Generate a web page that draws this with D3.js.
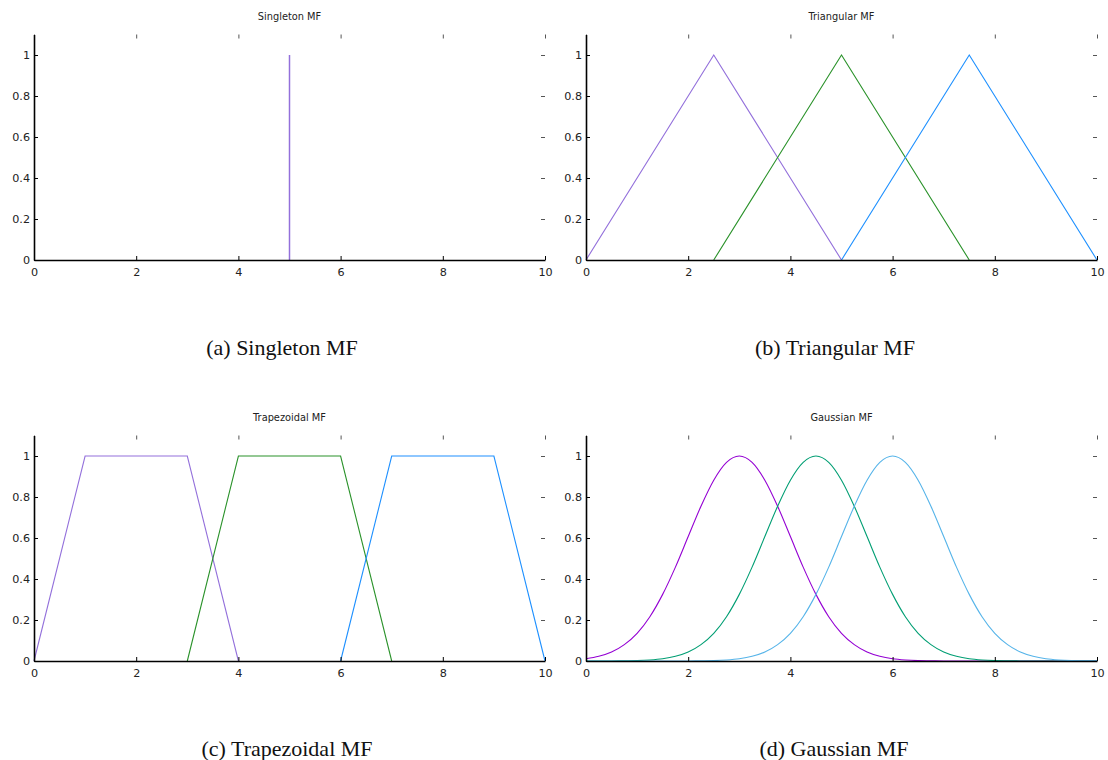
<!DOCTYPE html>
<html>
<head>
<meta charset="utf-8">
<script src="https://cdn.jsdelivr.net/npm/d3@7"></script>
<style>
  body { margin: 0; background: #fff; }
  .tick text { font-family: "DejaVu Sans", sans-serif; font-size: 11.2px; fill: #222; }
  .ptitle { font-family: "DejaVu Sans", sans-serif; font-size: 9.8px; fill: #222; }
  .caption { font-family: "Liberation Serif", "Times New Roman", serif; font-size: 22px; fill: #111; }
</style>
</head>
<body>
<div id="chart"></div>
<script>
// tick values
var xTicks = [0, 2, 4, 6, 8, 10];
var yTicks = [0, 0.2, 0.4, 0.6, 0.8, 1];

// singleton MF
var singletonX = [5, 5];
var singletonY = [0, 1];

// triangular MF
var triAX = [0, 2.5, 5],   triAY = [0, 1, 0];
var triBX = [2.5, 5, 7.5], triBY = [0, 1, 0];
var triCX = [5, 7.5, 10],  triCY = [0, 1, 0];

// trapezoidal MF
var trapAX = [0, 1, 3, 4],  trapAY = [0, 1, 1, 0];
var trapBX = [3, 4, 6, 7],  trapBY = [0, 1, 1, 0];
var trapCX = [6, 7, 9, 10], trapCY = [0, 1, 1, 0];

// gaussian MF, read every 0.25
var gaussX = [0, 0.25, 0.5, 0.75, 1, 1.25, 1.5, 1.75, 2, 2.25, 2.5, 2.75, 3, 3.25, 3.5, 3.75, 4, 4.25, 4.5, 4.75,
    5, 5.25, 5.5, 5.75, 6, 6.25, 6.5, 6.75, 7, 7.25, 7.5, 7.75, 8, 8.25, 8.5, 8.75, 9, 9.25, 9.5, 9.75, 10];
var gaussA = [0.011, 0.023, 0.044, 0.080, 0.135, 0.216, 0.325, 0.458, 0.607, 0.755, 0.882, 0.969, 1, 0.969, 0.882, 0.755,
    0.607, 0.458, 0.325, 0.216, 0.135, 0.080, 0.044, 0.023, 0.011, 0.005, 0.002, 0.001, 0,
    0, 0, 0, 0, 0, 0, 0, 0, 0, 0, 0, 0];
var gaussB = [0, 0, 0.0003, 0.001, 0.002, 0.005, 0.011, 0.023, 0.044, 0.080, 0.135, 0.216, 0.325, 0.458, 0.607, 0.755,
    0.882, 0.969, 1, 0.969, 0.882, 0.755, 0.607, 0.458, 0.325, 0.216, 0.135, 0.080, 0.044, 0.023, 0.011, 0.005,
    0.002, 0.001, 0.0003, 0, 0, 0, 0, 0, 0];
var gaussC = [0, 0, 0, 0, 0, 0, 0, 0, 0.0003, 0.001, 0.002, 0.005, 0.011, 0.023, 0.044, 0.080, 0.135, 0.216, 0.325, 0.458,
    0.607, 0.755, 0.882, 0.969, 1, 0.969, 0.882, 0.755, 0.607, 0.458, 0.325, 0.216, 0.135, 0.080, 0.044, 0.023,
    0.011, 0.005, 0.002, 0.001, 0.0003];

var purple = "#9370db", green = "#2a922a", blue = "#1e90ff";

var panels = [
    {left: 34, top: 0, title: "Singleton MF", caption: "(a) Singleton MF", capX: 282, curve: d3.curveLinear,
        series: [{x: singletonX, y: singletonY, color: purple, w: 1.5}]},
    {left: 586, top: 0, title: "Triangular MF", caption: "(b) Triangular MF", capX: 835, curve: d3.curveLinear,
        series: [{x: triAX, y: triAY, color: purple}, {x: triBX, y: triBY, color: green}, {x: triCX, y: triCY, color: blue}]},
    {left: 34, top: 401, title: "Trapezoidal MF", caption: "(c) Trapezoidal MF", capX: 287, curve: d3.curveLinear,
        series: [{x: trapAX, y: trapAY, color: purple}, {x: trapBX, y: trapBY, color: green}, {x: trapCX, y: trapCY, color: blue}]},
    {left: 586, top: 401, title: "Gaussian MF", caption: "(d) Gaussian MF", capX: 834, curve: d3.curveMonotoneX,
        series: [{x: gaussX, y: gaussA, color: "#9400d3"}, {x: gaussX, y: gaussB, color: "#009e73"}, {x: gaussX, y: gaussC, color: "#56b4e9"}]}
];

var svg = d3.select("#chart").append("svg")
    .attr("width", 1108)
    .attr("height", 760);

var plotW = 511, plotTop = 34.5, plotBottom = 260;

panels.forEach(function(p) {
    var g = svg.append("g")
        .attr("transform", "translate(" + p.left + "," + p.top + ")");

    var x = d3.scaleLinear().domain([0, 10]).range([0, plotW]);
    var y = d3.scaleLinear().domain([0, 1.1]).range([plotBottom, plotTop]);

    // mirror ticks on top and right
    g.append("g")
        .attr("transform", "translate(0," + plotTop + ")")
        .call(d3.axisTop(x).tickValues(xTicks).tickSize(-4).tickFormat(""))
        .call(function(a) { a.select(".domain").remove(); })
        .selectAll("line").attr("stroke", "#555");
    g.append("g")
        .attr("transform", "translate(" + plotW + ",0)")
        .call(d3.axisRight(y).tickValues(yTicks).tickSize(-4).tickFormat(""))
        .call(function(a) { a.select(".domain").remove(); })
        .selectAll("line").attr("stroke", "#555");

    var line = d3.line()
        .x(function(d) { return x(d[0]); })
        .y(function(d) { return y(d[1]); })
        .curve(p.curve);

    p.series.forEach(function(s) {
        g.append("path")
            .datum(d3.zip(s.x, s.y))
            .attr("fill", "none")
            .attr("stroke", s.color)
            .attr("stroke-width", s.w || 1.1)
            .attr("d", line);
    });

    var xAxis = g.append("g")
        .attr("transform", "translate(0," + plotBottom + ")")
        .call(d3.axisBottom(x).tickValues(xTicks).tickSize(-4).tickSizeOuter(0).tickPadding(8).tickFormat(function(d) { return d; }));
    var yAxis = g.append("g")
        .call(d3.axisLeft(y).tickValues(yTicks).tickSize(-4).tickSizeOuter(0).tickPadding(4).tickFormat(function(d) { return d; }));

    [xAxis, yAxis].forEach(function(a) {
        a.select(".domain").attr("stroke", "#000").attr("stroke-width", 1.6);
        a.selectAll(".tick line").attr("stroke", "#000");
    });

    g.append("text")
        .attr("class", "ptitle")
        .attr("x", plotW / 2)
        .attr("y", 20)
        .attr("text-anchor", "middle")
        .text(p.title);

    svg.append("text")
        .attr("class", "caption")
        .attr("x", p.capX)
        .attr("y", p.top + 355)
        .attr("text-anchor", "middle")
        .text(p.caption);
});
</script>
</body>
</html>
